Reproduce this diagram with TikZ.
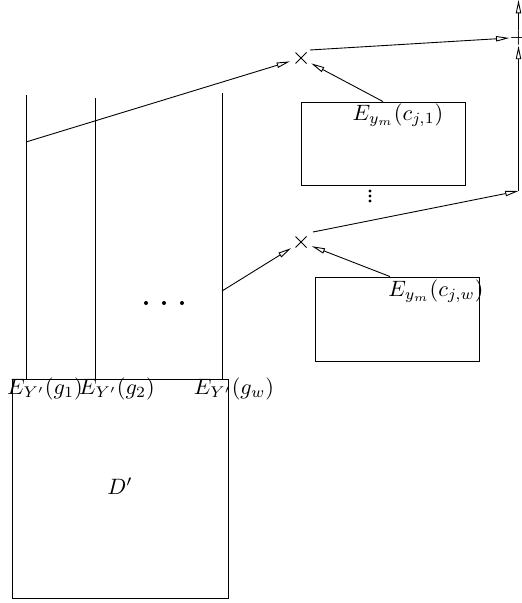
\documentclass[tikz,border=0pt]{standalone}
\usetikzlibrary{arrows.meta,calc,fit}
\begin{document}
\begin{tikzpicture}[x=0.45pt,y=-0.45pt,
  arr/.style={-{Triangle[open,length=6pt,width=2.4pt]}},
  box/.style={draw,inner sep=0pt},
  lab/.style={inner sep=0pt},
  xmark/.style={circle,inner sep=0pt,minimum size=10pt}]
\useasboundingbox (0,0) rectangle (521,603);
% big box
\node[box,fit={(12,379)(228,598)}] (D) {};
\node[lab] (Dl) at (120,486) {$D'$};
% vertical lines
\coordinate (t1) at (26,95);
\coordinate (t2) at (95,98);
\coordinate (t3) at (222,93);
\draw (t1) -- (t1 |- D.north);
\draw (t2) -- (t2 |- D.north);
\draw (t3) -- (t3 |- D.north);
\node[lab] (g1) at (45,389) {$E_{Y'}(g_1)$};
\node[lab] (g2) at (117,389) {$E_{Y'}(g_2)$};
\node[lab] (gw) at (234,389) {$E_{Y'}(g_w)$};
% crosses
\node[xmark] (x1) at (301,58) {};
\node[xmark] (x2) at (301,242) {};
\draw ($(x1)+(-5.5,-5.5)$) -- ($(x1)+(5.5,5.5)$) ($(x1)+(-5.5,5.5)$) -- ($(x1)+(5.5,-5.5)$);
\draw ($(x2)+(-5.5,-5.5)$) -- ($(x2)+(5.5,5.5)$) ($(x2)+(-5.5,5.5)$) -- ($(x2)+(5.5,-5.5)$);
% boxes
\node[box,fit={(301,102)(465,185)}] (b1) {};
\node[lab] (b1l) at (398,115) {$E_{y_m}(c_{j,1})$};
\node[box,fit={(315,277)(479,361)}] (b2) {};
\node[lab] (b2l) at (436,291) {$E_{y_m}(c_{j,w})$};
% plus
\node[lab] (pl) at (518.5,38) {$+$};
\coordinate (top) at (518.5,0);
\coordinate (c5) at (518.5,191);
% connectors
\coordinate (p1) at (26,142);
\coordinate (p3) at (222,291);
\coordinate (s3) at (310,50);
\coordinate (s5) at (313,232);
\draw[arr] (p1) -- (x1);
\draw[arr] (b1.north) -- (x1);
\draw[arr] (s3) -- (pl.west);
\draw[arr] (p3) -- (x2);
\draw[arr] ($(b2.north)+(-7,0)$) -- (x2);
\draw[arr] (s5) -- (c5);
\draw[arr] (c5) -- (pl.south);
\draw[arr] (pl.north) -- (top);
% dots
\foreach \xx in {146,164,182} \fill (\xx,303) circle (0.9pt);
\foreach \yy in {191,196,201} \fill (370,\yy) circle (0.7pt);
\end{tikzpicture}
\end{document}
